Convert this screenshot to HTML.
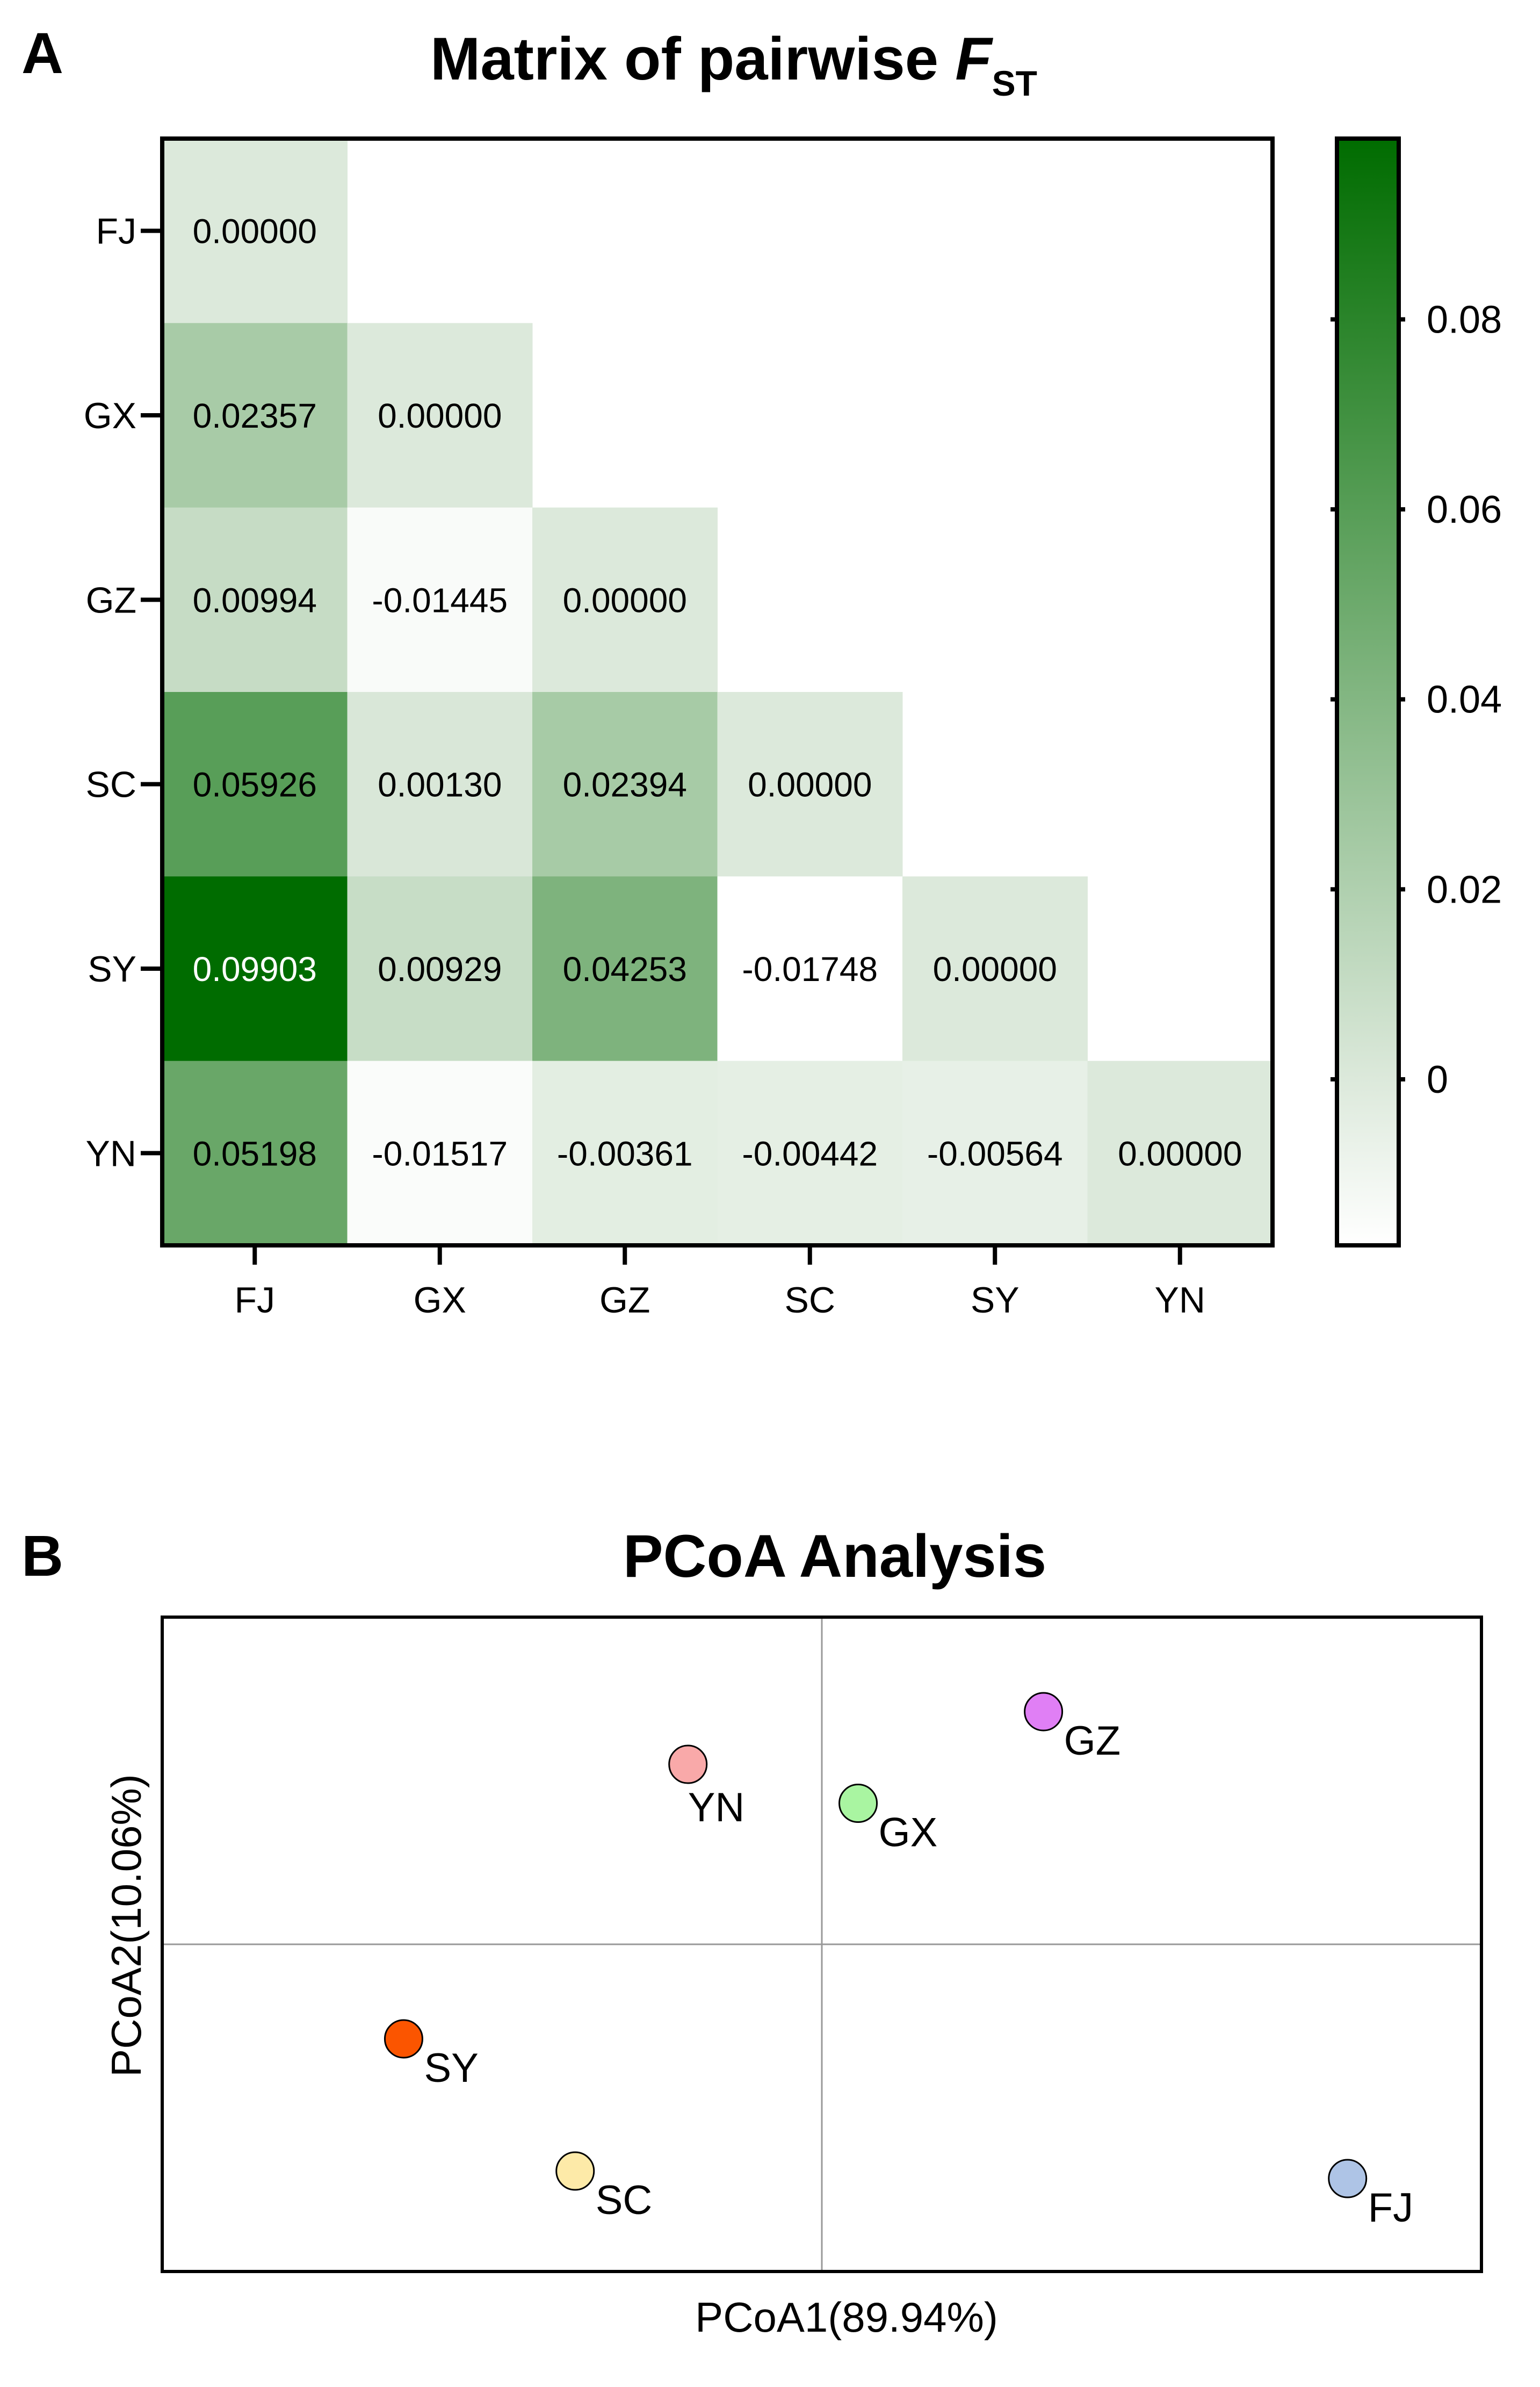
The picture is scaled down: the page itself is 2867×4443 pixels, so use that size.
<!DOCTYPE html>
<html><head><meta charset="utf-8"><style>
html,body{margin:0;padding:0;background:#fff;}
svg{display:block;font-family:"Liberation Sans",Arial,sans-serif;}
</style></head><body>
<svg id="fig" width="2867" height="4443" viewBox="0 0 2867 4443" xmlns="http://www.w3.org/2000/svg">
<rect width="2867" height="4443" fill="#fff"/>
<text x="40" y="136" font-size="108" font-weight="bold">A</text>
<text x="1366" y="148" font-size="112" font-weight="bold" text-anchor="middle">Matrix of pairwise <tspan font-style="italic">F</tspan><tspan font-size="66" dy="30">ST</tspan></text>
<g id="heat"></g>
<g id="cbar"></g>
<text x="40" y="2933" font-size="108" font-weight="bold">B</text>
<text x="1554" y="2935" font-size="112" font-weight="bold" text-anchor="middle">PCoA Analysis</text>
<g id="pcoa"></g>
<text x="1576" y="4340" font-size="78" text-anchor="middle">PCoA1(89.94%)</text>
<text x="0" y="0" font-size="78" text-anchor="middle" transform="translate(262,3584) rotate(-90)">PCoA2(10.06%)</text>
</svg>
<script>
const pops = ["FJ","GX","GZ","SC","SY","YN"];
const fstRows = [
  [0.00000],
  [0.02357,0.00000],
  [0.00994,-0.01445,0.00000],
  [0.05926,0.00130,0.02394,0.00000],
  [0.09903,0.00929,0.04253,-0.01748,0.00000],
  [0.05198,-0.01517,-0.00361,-0.00442,-0.00564,0.00000]
];
const cbarTicks = [0,0.02,0.04,0.06,0.08];
const cbarTickLabels = ["0","0.02","0.04","0.06","0.08"];
const pcoaLabels = ["GZ","YN","GX","SY","SC","FJ"];
const pcoa1 = [0.336,-0.203,0.055,-0.634,-0.374,0.797];
const pcoa2 = [0.711,0.55,0.431,-0.289,-0.693,-0.716];
const pcoaColors = ["#e07ff5","#f9a9a9","#a9f5a1","#fb5500","#fdeaa8","#aec4e6"];

const NS="http://www.w3.org/2000/svg";
function mk(tag,attrs,parent){const e=document.createElementNS(NS,tag);for(const k in attrs)e.setAttribute(k,attrs[k]);parent.appendChild(e);return e;}

const HL=302,HR=2369,HT=258,HB=2318;
const cw=(HR-HL)/pops.length, ch=(HB-HT)/pops.length;
const vmin=-0.01748, vmax=0.09903;
function color(v){
  let r,g,b;
  if(v<=0){const t=(v-vmin)/(0-vmin);r=255+(220-255)*t;g=255+(233-255)*t;b=255+(219-255)*t;}
  else{const t=Math.min(1,v/vmax);r=220*(1-t);g=233+(108-233)*t;b=219*(1-t);}
  return `rgb(${Math.round(r)},${Math.round(g)},${Math.round(b)})`;
}
const heat=document.getElementById('heat');
fstRows.forEach((row,i)=>{row.forEach((v,j)=>{
  const c=mk('rect',{x:HL+j*cw,y:HT+i*ch,width:cw+0.5,height:ch+0.5,fill:color(v)},heat);
  
  
  const t=mk('text',{x:HL+(j+0.5)*cw,y:HT+(i+0.5)*ch+23,'font-size':64,'text-anchor':'middle',fill:v>0.09?'#fff':'#000'},heat);
  t.textContent=v.toFixed(5);
  
  
});});
const hb=mk('rect',{x:HL,y:HT,width:HR-HL,height:HB-HT,fill:'none',stroke:'#000','stroke-width':8},heat);


pops.forEach((p,i)=>{
  const y=HT+(i+0.5)*ch;
  mk('line',{x1:HL-40,x2:HL,y1:y,y2:y,stroke:'#000','stroke-width':8},heat);
  const t=mk('text',{x:HL-48,y:y+24,'font-size':68,'text-anchor':'end'},heat);
  t.textContent=p;
  
  
  const x=HL+(i+0.5)*cw;
  mk('line',{x1:x,x2:x,y1:HB,y2:HB+36,stroke:'#000','stroke-width':8},heat);
  const u=mk('text',{x:x,y:HB+125,'font-size':68,'text-anchor':'middle'},heat);
  u.textContent=p;
  
  
});

const cb=document.getElementById('cbar');
const CL=2489,CR=2604,CT=258,CB=2318;
const defs=mk('defs',{},cb);
const grad=mk('linearGradient',{id:'g',x1:0,y1:1,x2:0,y2:0},defs);
mk('stop',{offset:0,'stop-color':color(vmin)},grad);
mk('stop',{offset:(0-vmin)/(vmax-vmin),'stop-color':color(0)},grad);
mk('stop',{offset:1,'stop-color':color(vmax)},grad);
const cy=v=>CB-(v-vmin)/(vmax-vmin)*(CB-CT);
mk('rect',{x:CL,y:CT,width:CR-CL,height:CB-CT,fill:'url(#g)',stroke:'#000','stroke-width':8},cb);
cbarTicks.forEach((v,k)=>{
  const y=cy(v);
  mk('line',{x1:CL-12,x2:CL-4,y1:y,y2:y,stroke:'#000','stroke-width':8},cb);
  mk('line',{x1:CR+4,x2:CR+12,y1:y,y2:y,stroke:'#000','stroke-width':8},cb);
  const t=mk('text',{x:CR+52,y:y+25,'font-size':72},cb);
  t.textContent=cbarTickLabels[k];
  
  
});

const pc=document.getElementById('pcoa');
const PL=302,PR=2758,PT=3010,PB=4228;
const px=v=>(PL+PR)/2+v*(PR-PL)/2;
const py=v=>(PT+PB)/2-v*(PB-PT)/2;
mk('line',{x1:px(0),x2:px(0),y1:PT,y2:PB,stroke:'#999','stroke-width':3},pc);
mk('line',{x1:PL,x2:PR,y1:py(0),y2:py(0),stroke:'#999','stroke-width':3},pc);
mk('rect',{x:PL,y:PT,width:PR-PL,height:PB-PT,fill:'none',stroke:'#000','stroke-width':6},pc);
pcoaLabels.forEach((lab,i)=>{
  const x=px(pcoa1[i]),y=py(pcoa2[i]);
  const c=mk('circle',{cx:x,cy:y,r:35,fill:pcoaColors[i],stroke:'#000','stroke-width':3},pc);
  
  
  const yn=lab==='YN';
  const t=mk('text',{x:x+(yn?0:38),y:y+(yn?106:80),'font-size':76},pc);
  t.textContent=lab;
  
  
});
</script>
</body></html>
